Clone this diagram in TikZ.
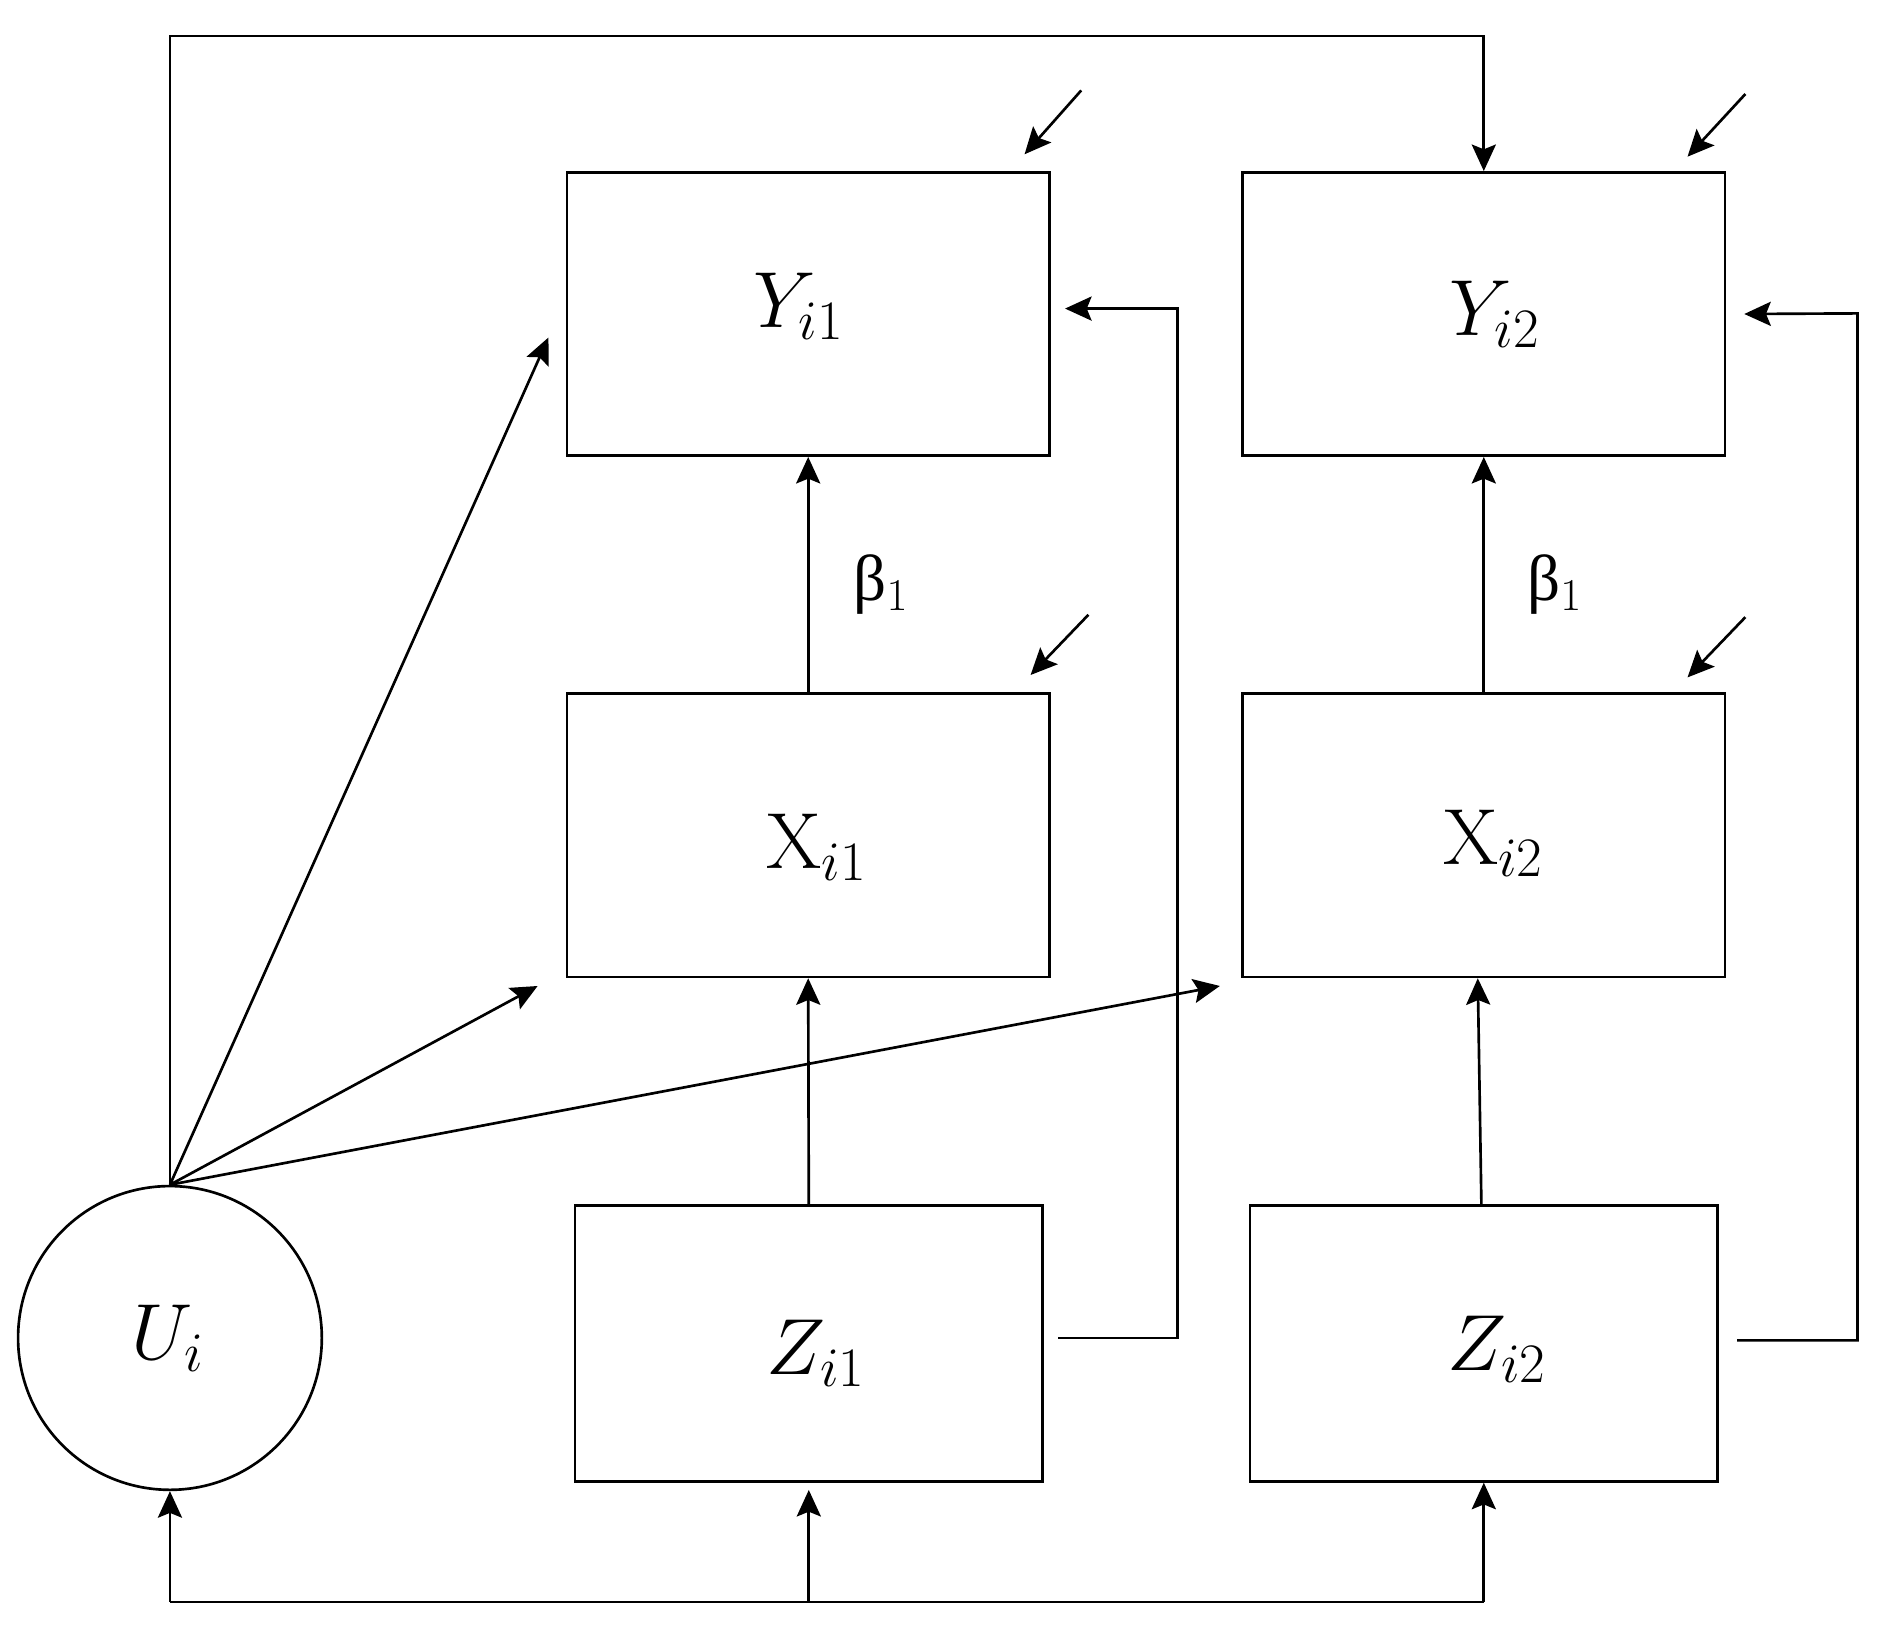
\RequirePackage{fix-cm}
\documentclass[tikz,border=0pt]{standalone}
\usepackage{fontspec}
\newfontfamily\grk{Liberation Serif}
\usetikzlibrary{arrows.meta,calc}
\begin{document}
\begin{tikzpicture}[x=0.5pt,y=-0.5pt,
  bx/.style={draw,line width=1.1pt,rectangle,inner sep=0pt},
  txt/.style={inner sep=0pt,font=\fontsize{33}{40}\selectfont},
  ybox/.style={bx,minimum width=200pt,minimum height=117.5pt},
  zbox/.style={bx,minimum width=194pt,minimum height=114.5pt},
  arr/.style={line width=1.1pt,-{Stealth[length=11pt,width=10pt,inset=2pt]}},
  ln/.style={line width=1.1pt},
  lbl/.style={inner sep=0pt,font=\fontsize{27}{32}\selectfont}
]
\useasboundingbox (0,0) rectangle (1568,1349);

\node[ybox,label={[txt,xshift=-4pt,yshift=3pt]center:$Y_{i1}$}] (Y1) at (670.5,260.5) {};
\node[ybox,label={[txt,xshift=4.5pt,yshift=0pt]center:$Y_{i2}$}] (Y2) at (1231,260.5) {};
\node[ybox,label={[txt,xshift=3.5pt,yshift=-5pt]center:$\mathrm{X}_{i1}$}] (X1) at (670.5,693) {};
\node[ybox,label={[txt,xshift=4pt,yshift=-3.5pt]center:$\mathrm{X}_{i2}$}] (X2) at (1231,693) {};
\node[zbox,label={[txt,xshift=3pt,yshift=-4pt]center:$Z_{i1}$}] (Z1) at (671,1114.5) {};
\node[zbox,label={[txt,xshift=5.5pt,yshift=-2.5pt]center:$Z_{i2}$}] (Z2) at (1231,1114.5) {};
\node[bx,circle,minimum size=126pt,label={[txt,xshift=-1pt]center:$U_i$}] (U) at (141,1110) {};

\node[lbl] (b1) at (731,485) {{\grk β}$_1$};
\node[lbl] (b2) at (1290,485) {{\grk β}$_1$};

% free ends
\coordinate (aY1) at (455,280);
\coordinate (aX1) at (446,818);
\coordinate (aX2) at (1012,818);
\coordinate (e1s) at (897,75);  \coordinate (e1e) at (850,128);
\coordinate (e2s) at (1448,78); \coordinate (e2e) at (1400,130);
\coordinate (e3s) at (903,510); \coordinate (e3e) at (855,560);
\coordinate (e4s) at (1448,512); \coordinate (e4e) at (1400,562);

% U fan
\draw[arr] (U.north) -- (aY1);
\draw[arr] (U.north) -- (aX1);
\draw[arr] (U.north) -- (aX2);
\draw[arr] (U.north) -- (U.north |- 0,30) -| (Y2.north);

% bottom bus
\draw[ln] (U.south |- 0,1329) -- (Z2.south |- 0,1329);
\draw[arr] (U.south |- 0,1329) -- (U.south);
\draw[arr] (Z1.south |- 0,1329) -- ([yshift=-3pt]Z1.south);
\draw[arr] (Z2.south |- 0,1329) -- (Z2.south);

% Z to X, X to Y
\draw[arr] (Z1.north) -- (X1.south);
\draw[arr] ([xshift=-1pt]Z2.north) -- ([xshift=-2.5pt]X2.south);
\draw[arr] (X1.north) -- (Y1.south);
\draw[arr] (X2.north) -- (Y2.south);

% Z feedback to Y
\draw[arr] ([xshift=6pt,yshift=2.25pt]Z1.east) -| (977,256) -- ([xshift=6pt]Y1.east |- 0,256);
\draw[arr] ([xshift=7.5pt,yshift=1.25pt]Z2.east) -| (1541,260) -- ([xshift=7.5pt]Y2.east);

% error arrows
\draw[arr] (e1s) -- (e1e);
\draw[arr] (e2s) -- (e2e);
\draw[arr] (e3s) -- (e3e);
\draw[arr] (e4s) -- (e4e);
\end{tikzpicture}
\end{document}
